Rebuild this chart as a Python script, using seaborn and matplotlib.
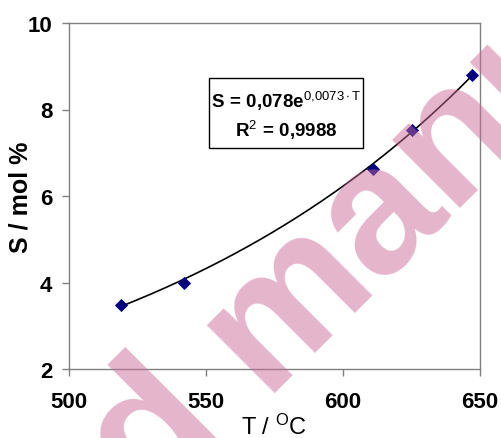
import numpy as np
import pandas as pd
import matplotlib
matplotlib.use("Agg")
import matplotlib.pyplot as plt
from matplotlib.patches import Rectangle
import seaborn as sns

# measured solubility vs temperature
temps = [519, 542, 611, 625, 647]
solub = [3.47, 3.99, 6.63, 7.52, 8.80]
# exponential trend line shown in the box
fit_a = 0.078
fit_b = 0.0073
eq_text = r'$\mathbf{S\,=\,0{,}078e}^{\mathrm{0{,}0073\bullet T}}$'
r2_text = r'$\mathbf{R}^{\mathrm{2}}\mathbf{\,=\,0{,}9988}$'
xticks = [500, 550, 600, 650]
yticks = [2, 4, 6, 8, 10]

sns.set_style("white")
plt.rcParams['font.family'] = ['Liberation Sans', 'DejaVu Sans']
plt.rcParams['mathtext.fontset'] = 'custom'
plt.rcParams['mathtext.rm'] = 'Liberation Sans'
plt.rcParams['mathtext.bf'] = 'Liberation Sans:bold'
plt.rcParams['mathtext.it'] = 'Liberation Sans:italic'
plt.rcParams['text.color'] = 'black'
plt.rcParams['axes.labelcolor'] = 'black'

df = pd.DataFrame({'T': temps, 'S': solub})
t_fit = np.linspace(min(temps), max(temps), 200)
fit_df = pd.DataFrame({'T': t_fit, 'S': fit_a * np.exp(fit_b * t_fit)})

fig = plt.figure(figsize=(5.01, 4.39), dpi=100)
ax = fig.add_axes([69/501, 1-370/439, 411/501, 346/439])

sns.lineplot(x='T', y='S', data=fit_df, color='black', linewidth=1.2, ax=ax)
sns.scatterplot(x='T', y='S', data=df, marker='D', color='#000080', s=45,
                edgecolor='#000080', linewidth=0, ax=ax, zorder=3)

ax.set_xlim(500, 650)
ax.set_ylim(2, 10)
ax.set_xticks(xticks)
ax.set_yticks(yticks)
ax.set_xticklabels([str(v) for v in xticks], fontweight='bold', fontsize=16)
ax.set_yticklabels([str(v) for v in yticks], fontweight='bold', fontsize=16)
ax.tick_params(axis='both', direction='out', length=5, width=1, color='#808080',
               labelcolor='black', bottom=True, left=True)
ax.tick_params(axis='x', pad=11)
ax.tick_params(axis='y', pad=7)
for sp in ax.spines.values():
    sp.set_color('#808080')
    sp.set_linewidth(1)

ax.set_xlabel(r'T / $^{\mathrm{O}}$C', fontsize=17, color='black')
ax.set_ylabel('S / mol %', fontsize=18, fontweight='bold', color='black')
ax.xaxis.set_label_coords(0.5, -0.13)
ax.yaxis.set_label_coords(-0.088, 0.5)

# equation box
ax.add_patch(Rectangle((0.3406, 0.639), 0.3747, 0.202, transform=ax.transAxes,
                       facecolor='white', edgecolor='black', linewidth=1, zorder=4))
ax.text(0.528, 0.775, eq_text, transform=ax.transAxes, ha='center', va='center',
        fontsize=13.5, zorder=5)
ax.text(0.528, 0.692, r2_text, transform=ax.transAxes, ha='center', va='center',
        fontsize=13.5, zorder=5)

# watermark
wm_color = (203/255, 107/255, 153/255)
fig.text(0.454, 0.025, 'Accepted', fontsize=131, fontweight='bold', color=wm_color,
         alpha=0.5, rotation=45, rotation_mode='anchor', ha='right', va='baseline',
         zorder=10)
fig.text(0.525, 0.105, 'manuscript', fontsize=131, fontweight='bold', color=wm_color,
         alpha=0.5, rotation=45, rotation_mode='anchor', ha='left', va='baseline',
         zorder=10)

fig.savefig('out.png', dpi=100)
